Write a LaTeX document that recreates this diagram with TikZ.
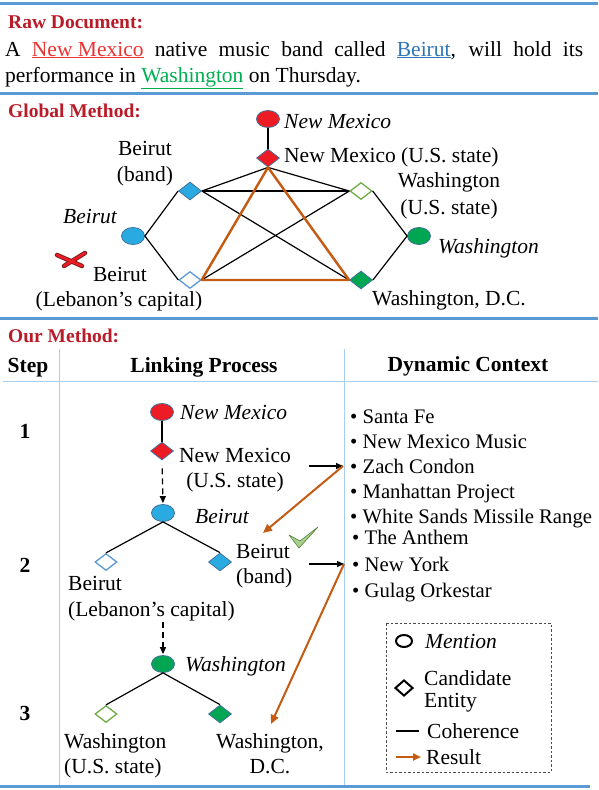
\documentclass[tikz,border=0pt]{standalone}
\usepackage{fontspec}
\setmainfont{Liberation Serif}
\usetikzlibrary{shapes.geometric,arrows.meta}
\definecolor{hdred}{RGB}{185,28,40}
\definecolor{rulblue}{RGB}{91,155,213}
\definecolor{tblue}{RGB}{170,205,235}
\definecolor{mred}{RGB}{237,28,36}
\definecolor{mblue}{RGB}{41,171,226}
\definecolor{mgreen}{RGB}{0,166,81}
\definecolor{hblue}{RGB}{91,155,213}
\definecolor{hgreen}{RGB}{112,173,71}
\definecolor{outl}{RGB}{65,113,156}
\definecolor{res}{RGB}{197,90,17}
\definecolor{txtred}{RGB}{237,50,50}
\definecolor{txtblue}{RGB}{46,117,182}
\definecolor{txtgreen}{RGB}{0,176,80}
\definecolor{xdark}{RGB}{120,30,30}
\definecolor{chkgreen}{RGB}{169,209,142}
\definecolor{chkdark}{RGB}{84,130,53}
\newcommand\myfs{\fontsize{21.5}{26}\selectfont}
\newcommand\mylfs{\fontsize{20.7}{25}\selectfont}
\tikzset{
 lbl/.style={inner sep=0, font=\myfs},
 ilbl/.style={inner sep=0, font=\myfs\itshape},
 blbl/.style={inner sep=0, font=\myfs\bfseries},
 listitem/.style={inner sep=0, font=\mylfs, anchor=base west},
 head/.style={inner sep=0, font=\fontsize{19.5}{22}\selectfont\bfseries, text=hdred},
 ment/.style={ellipse, draw=outl, line width=0.8pt, minimum width=23pt, minimum height=17pt, inner sep=0},
 ent/.style={diamond, line width=0.8pt, minimum width=23pt, minimum height=18pt, inner sep=0},
 hollowent/.style={diamond, fill=white, line width=1.3pt, minimum width=22pt, minimum height=17pt, inner sep=0},
 coh/.style={line width=1.2pt, black},
 resl/.style={line width=2.4pt, res, line join=round},
 resarr/.style={line width=2pt, res, -{Triangle[length=9pt,width=8pt]}},
 ctxarr/.style={line width=1.3pt, black, -{Triangle[length=7pt,width=6pt]}},
 dasharr/.style={line width=1.3pt, black, dash pattern=on 6pt off 4pt, -{Triangle[length=7pt,width=6pt]}},
 hrule/.style={line width=3pt, rulblue},
 trule/.style={line width=0.9pt, tblue},
}
\begin{document}
\begin{tikzpicture}[x=1pt,y=-1pt]
\useasboundingbox (0,0) rectangle (598,790);
\fill[white] (0,0) rectangle (598,790);

% rules
\draw[hrule] (0,3) -- (598,3);
\draw[hrule] (0,93) -- (598,93);
\draw[hrule] (0,318) -- (598,318);
\draw[hrule] (0,786) -- (590,786);
\draw[trule] (3,381) -- (598,381);
\draw[trule] (59,349) -- (59,785);
\draw[trule] (344,349) -- (344,785);

% raw document
\node[head, anchor=base west] (rawh) at (8,28) {Raw Document:};
\node[lbl, anchor=base west] (raw1) at (5,56) {\makebox[578pt][s]{A \textcolor{txtred}{\underline{New Mexico}} native music band called \textcolor{txtblue}{\underline{Beirut}}, will hold its}};
\node[lbl, anchor=base west] (raw2) at (5,82) {performance in \textcolor{txtgreen}{\underline{Washington}} on Thursday.};

% global method
\node[head, anchor=base west] (globh) at (8,117) {Global Method:};
\node[ment, fill=mred] (gnm) at (268,119) {};
\node[ent, fill=mred, draw=outl] (gnme) at (268,158) {};
\node[ent, fill=mblue, draw=outl] (gband) at (190,191) {};
\node[ment, fill=mblue] (gbm) at (133,236) {};
\node[hollowent, draw=hblue] (gleb) at (190,280) {};
\node[hollowent, draw=hgreen] (gwus) at (361,191) {};
\node[ment, fill=mgreen] (gwm) at (419,236) {};
\node[ent, fill=mgreen, draw=outl] (gwdc) at (361,280) {};

\draw[coh] (gnm) -- (gnme);
\draw[coh] (gbm.east) -- (gband.west);
\draw[coh] (gbm.east) -- (gleb.west);
\draw[coh] (gwm.west) -- (gwus.east);
\draw[coh] (gwm.west) -- (gwdc.east);
\draw[coh] (gnme.south) -- (gband.east);
\draw[coh] (gnme.south) -- (gwus.west);
\draw[coh] (gband.east) -- (gwus.west);
\draw[coh] (gband.east) -- (gwdc.west);
\draw[coh] (gleb.east) -- (gwus.west);
\draw[resl] (gnme.south) -- (gleb.east) -- (gwdc.west) -- cycle;

\node[ilbl, anchor=base west] (lgnm) at (284,128) {New Mexico};
\node[lbl, anchor=base west] (lgnme) at (284,162) {New Mexico (U.S. state)};
\node[lbl, anchor=base] (lgband1) at (145,155) {Beirut};
\node[lbl, anchor=base] (lgband2) at (145,181) {(band)};
\node[ilbl, anchor=base] (lgbm) at (90,223) {Beirut};
\node[lbl, anchor=base] (lgleb1) at (120,281) {Beirut};
\node[lbl, anchor=base] (lgleb2) at (119,306) {(Lebanon's capital)};
\node[lbl, anchor=base] (lgwus1) at (449,187) {Washington};
\node[lbl, anchor=base] (lgwus2) at (449,214) {(U.S. state)};
\node[ilbl, anchor=base west] (lgwm) at (438,253) {Washington};
\node[lbl, anchor=base] (lgwdc) at (449,305) {Washington, D.C.};

% red cross
\draw[line width=4.5pt, xdark, line cap=round] (57,255) -- (82,266);
\draw[line width=4.5pt, xdark, line cap=round] (64,266) -- (85,253);
\draw[line width=2.6pt, mred, line cap=round] (57,255) -- (82,266);
\draw[line width=2.6pt, mred, line cap=round] (64,266) -- (85,253);

% our method
\node[head, anchor=base west] (ourh) at (8,342) {Our Method:};
\node[blbl, anchor=base] (hstep) at (28,372) {Step};
\node[blbl, anchor=base] (hlink) at (204,372) {Linking Process};
\node[blbl, anchor=base] (hctx) at (468,371) {Dynamic Context};
\node[blbl, anchor=base] (s1) at (25,438) {1};
\node[blbl, anchor=base] (s2) at (25,572) {2};
\node[blbl, anchor=base] (s3) at (25,720) {3};

\node[ment, fill=mred] (onm) at (162,412) {};
\node[ent, fill=mred, draw=outl] (onme) at (162,451) {};
\node[ment, fill=mblue] (obm) at (163,513) {};
\node[hollowent, draw=hblue] (oleb) at (106,562) {};
\node[ent, fill=mblue, draw=outl] (oband) at (220,562) {};
\node[ment, fill=mgreen] (owm) at (163,664) {};
\node[hollowent, draw=hgreen] (owus) at (106,714) {};
\node[ent, fill=mgreen, draw=outl] (owdc) at (220,714) {};

\draw[coh] (onm) -- (onme);
\draw[dasharr, shorten <=8pt, shorten >=1pt] (onme.south) -- (obm.north);
\draw[coh] (obm.south) -- (oleb.north);
\draw[coh] (obm.south) -- (oband.north);
\coordinate (d2s) at (163,622);
\draw[dasharr, shorten >=1pt] (d2s) -- (owm.north);
\draw[coh] (owm.south) -- (owus.north);
\draw[coh] (owm.south) -- (owdc.north);

\node[ilbl, anchor=base west] (lonm) at (180,419) {New Mexico};
\node[lbl, anchor=base] (lonme1) at (235,462) {New Mexico};
\node[lbl, anchor=base] (lonme2) at (235,487) {(U.S. state)};
\node[ilbl, anchor=base west] (lobm) at (195,523) {Beirut};
\node[lbl, anchor=base west] (loband1) at (236,558) {Beirut};
\node[lbl, anchor=base west] (loband2) at (236,583) {(band)};
\node[lbl, anchor=base west] (loleb1) at (68,590) {Beirut};
\node[lbl, anchor=base west] (loleb2) at (68,616) {(Lebanon's capital)};
\node[ilbl, anchor=base west] (lowm) at (185,671) {Washington};
\node[lbl, anchor=base west] (lowus1) at (64,748) {Washington};
\node[lbl, anchor=base west] (lowus2) at (64,773) {(U.S. state)};
\node[lbl, anchor=base] (lowdc1) at (270,748) {Washington,};
\node[lbl, anchor=base] (lowdc2) at (270,773) {D.C.};

% check mark
\filldraw[fill=chkgreen, draw=chkdark, line width=0.6pt, line join=round] (289,535) -- (299,548) -- (318,527) -- (300,541) -- cycle;

% dynamic context list
\node[listitem] (c1) at (350,423) {• Santa Fe};
\node[listitem] (c2) at (350,448) {• New Mexico Music};
\node[listitem] (c3) at (350,473) {• Zach Condon};
\node[listitem] (c4) at (350,498) {• Manhattan Project};
\node[listitem] (c5) at (350,523) {• White Sands Missile Range};
\node[listitem] (c6) at (352,544) {• The Anthem};
\node[listitem] (c7) at (352,571) {• New York};
\node[listitem] (c8) at (352,597) {• Gulag Orkestar};

% context arrows
\coordinate (a1s) at (309,466);
\coordinate (a1e) at (343,466);
\coordinate (a1t) at (263,533);
\draw[ctxarr] (a1s) -- (a1e);
\draw[resarr] (a1e) -- (a1t);
\coordinate (a2s) at (309,564);
\coordinate (a2e) at (344,564);
\coordinate (a2t) at (271,724);
\draw[ctxarr] (a2s) -- (a2e);
\draw[resarr] (a2e) -- (a2t);

% legend
\draw[line width=0.8pt, black!70, dash pattern=on 2.5pt off 2pt] (386,623) rectangle (551,772);
\node[ellipse, draw, line width=2pt, minimum width=16pt, minimum height=12pt, inner sep=0] (legm) at (404,641) {};
\node[diamond, draw, line width=2pt, minimum width=18pt, minimum height=16pt, inner sep=0] (lege) at (404,688) {};
\coordinate (lc1) at (396,731);
\coordinate (lc2) at (419,731);
\draw[line width=1.6pt] (lc1) -- (lc2);
\coordinate (lr1) at (396,757);
\coordinate (lr2) at (421,757);
\draw[line width=2pt, res, -{Triangle[length=8pt,width=7pt]}] (lr1) -- (lr2);
\node[ilbl, anchor=base west] (legmt) at (425,648) {Mention};
\node[lbl, anchor=base west] (leget1) at (424,685) {Candidate};
\node[lbl, anchor=base west] (leget2) at (424,707) {Entity};
\node[lbl, anchor=base west] (legct) at (427,738) {Coherence};
\node[lbl, anchor=base west] (legrt) at (426,764) {Result};
\end{tikzpicture}
\end{document}
